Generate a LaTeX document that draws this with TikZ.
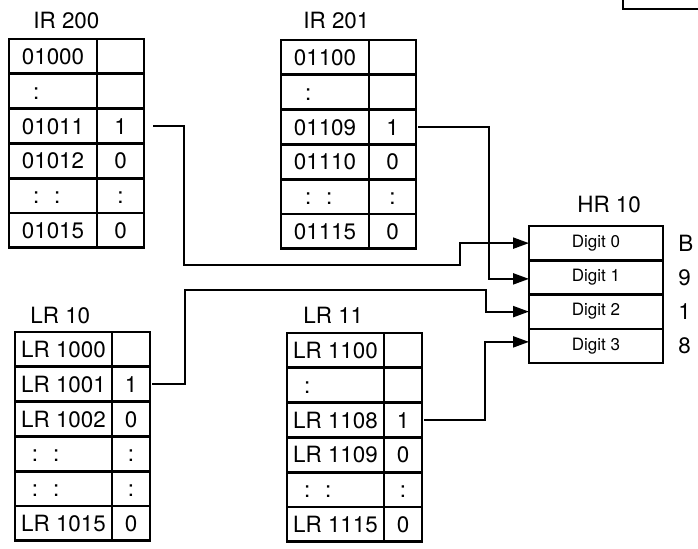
\documentclass[tikz,border=0pt]{standalone}
\usepackage{fontspec}
\setmainfont{TeX Gyre Heros}
\usetikzlibrary{arrows.meta, positioning}
\newcommand{\cellfont}{\fontsize{11.2}{13}\selectfont}
\newcommand{\digfont}{\fontsize{8.5}{10}\selectfont}

\begin{document}
\begin{tikzpicture}[x=0.5pt, y=-0.5pt,
    cell/.style={draw, line width=1.4pt, outer sep=0pt, inner sep=0pt,
                 minimum height=17.4pt, text height=8pt, text depth=0pt,
                 font=\cellfont},
    irlab/.style={cell, minimum width=44pt, anchor=north west},
    irdot/.style={cell, text width=20pt, inner xsep=12pt, align=left, anchor=north west},
    irval/.style={cell, minimum width=23.5pt},
    lrlab/.style={cell, minimum width=48.5pt, anchor=north west},
    lrdot/.style={cell, text width=31.5pt, inner xsep=8.5pt, align=left, anchor=north west},
    lrval/.style={cell, minimum width=19pt},
    digit/.style={draw, line width=1.25pt, outer sep=0pt, inner sep=0pt,
                  minimum width=67pt, minimum height=17.125pt,
                  anchor=north west, font=\digfont},
    ttl/.style={anchor=base west, inner sep=0pt, font=\cellfont},
    arr/.style={-{Triangle[length=8pt, width=5.5pt]}, line width=1.1pt},
]
    \useasboundingbox (0,0) rectangle (698,548);

    % IR 200
    \node[ttl] (tira) at (33,28) {IR 200};
    \foreach \lab/\val/\st [count=\i] in {01000//irlab, ://irdot, 01011/1/irlab,
        01012/0/irlab, {:\ \ :}/:/irdot, 01015/0/irlab} {
        \node[style/.expanded=\st] (ira\i) at (9,{39+34.8*(\i-1)}) {\lab};
        \node[irval, right=0pt of ira\i] (irav\i) {\val};
    }

    % IR 201
    \node[ttl] (tirb) at (303,28) {IR 201};
    \foreach \lab/\val/\st [count=\i] in {01100//irlab, ://irdot, 01109/1/irlab,
        01110/0/irlab, {:\ \ :}/:/irdot, 01115/0/irlab} {
        \node[style/.expanded=\st] (irb\i) at (281,{40+34.8*(\i-1)}) {\lab};
        \node[irval, right=0pt of irb\i] (irbv\i) {\val};
    }

    % LR 10
    \node[ttl] (tlra) at (30,323) {LR 10};
    \foreach \lab/\val/\st [count=\i] in {LR 1000//lrlab, LR 1001/1/lrlab,
        LR 1002/0/lrlab, {:\ \ :}/:/lrdot, {:\ \ :}/:/lrdot, LR 1015/0/lrlab} {
        \node[style/.expanded=\st] (lra\i) at (15,{332+34.8*(\i-1)}) {\lab};
        \node[lrval, right=0pt of lra\i] (lrav\i) {\val};
    }

    % LR 11
    \node[ttl] (tlrb) at (303,323) {LR 11};
    \foreach \lab/\val/\st [count=\i] in {LR 1100//lrlab, ://lrdot,
        LR 1108/1/lrlab, LR 1109/0/lrlab, {:\ \ :}/:/lrdot, LR 1115/0/lrlab} {
        \node[style/.expanded=\st] (lrb\i) at (287,{333+34.8*(\i-1)}) {\lab};
        \node[lrval, right=0pt of lrb\i] (lrbv\i) {\val};
    }

    % HR 10
    \node[ttl] (thr) at (577,212) {HR 10};
    \foreach \v [count=\i from 0] in {B,9,1,8} {
        \node[digit] (hr\i) at (529,{226+34.25*\i}) {Digit \i};
        \node[inner sep=0pt, font=\cellfont, right=7.5pt of hr\i] (hrv\i) {\v};
    }

    % box cut off at the top right
    \draw[line width=1.4pt] (623,0) |- (699,9);

    \draw[arr] ([xshift=4.5pt]irav3.east) -- ++(31,0) |- (460,265) |- (hr0.west);
    \draw[arr] ([xshift=1pt]irbv3.east) -- ++(71,0) |- ([yshift=-0.75pt]hr1.west);
    \draw[arr] ([xshift=1pt]lrav2.east) -- ++(33,0) |- (486,290) |- (hr2.west);
    \draw[arr] ([xshift=1pt]lrbv3.east) -- ++(61,0) |- ([yshift=2pt]hr3.west);
\end{tikzpicture}
\end{document}
